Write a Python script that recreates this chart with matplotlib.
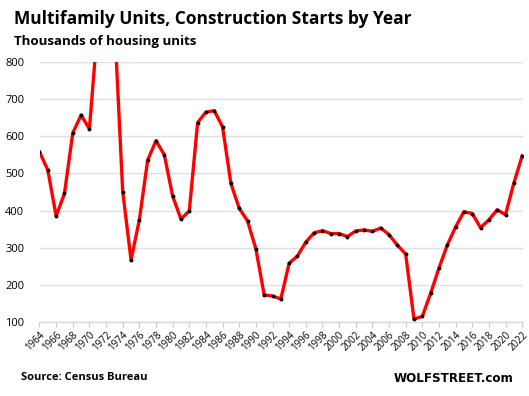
import matplotlib.pyplot as plt

# Multifamily construction starts, thousands of units (1971-73 run off the top)
years = list(range(1964, 2023))
starts = [558, 509, 385, 446, 609, 657, 620, 901, 1048, 913,
          451, 267, 375, 536, 588, 550, 439, 377, 399, 637,
          665, 669, 625, 473, 406, 372, 297, 173, 170, 162,
          258, 278, 315, 340, 346, 338, 338, 330, 345, 348,
          344, 353, 335, 307, 283, 108, 115, 177, 245, 307,
          356, 397, 392, 354, 375, 402, 389, 474, 547]
tick_years = list(range(1964, 2023, 2))
y_ticks = [100, 200, 300, 400, 500, 600, 700, 800]

plt.rcParams['font.family'] = ['Open Sans', 'DejaVu Sans']

fig = plt.figure(figsize=(5.29, 3.96), dpi=100)
ax = fig.add_axes([39.5 / 529, 74 / 396, 483.5 / 529, 260 / 396])

ax.plot(years, starts, color='#ff0000', linewidth=2.4, zorder=3)
ax.plot(years, starts, linestyle='none', marker='o', markersize=1.8,
        color='black', zorder=4)

ax.set_xlim(1964, 2022.1)
ax.set_ylim(100, 800)
ax.set_yticks(y_ticks)
ax.set_xticks(tick_years)
ax.set_xticklabels([str(y) for y in tick_years], rotation=45, ha='right',
                   rotation_mode='anchor', fontsize=7)
ax.tick_params(axis='y', length=0, pad=11, labelsize=8)
ax.tick_params(axis='x', length=3.5, color='#c8c8c8', pad=2)
ax.grid(axis='y', color='#e0e0e0', linewidth=1)
ax.set_axisbelow(True)
for side in ['top', 'right', 'left']:
    ax.spines[side].set_visible(False)
ax.spines['bottom'].set_color('#d9d9d9')
ax.spines['bottom'].set_linewidth(1)

fig.text(14 / 529, 1 - 19 / 396, 'Multifamily Units, Construction Starts by Year',
         fontsize=12.5, fontweight='bold', va='center', ha='left')
fig.text(14 / 529, 1 - 42 / 396, 'Thousands of housing units',
         fontsize=9.5, fontweight='bold', va='center', ha='left')
fig.text(21 / 529, 1 - 378 / 396, 'Source: Census Bureau',
         fontsize=8, fontweight='bold', va='center', ha='left')
fig.text(514 / 529, 1 - 378 / 396, 'WOLFSTREET.com',
         fontsize=8.6, fontweight='heavy', va='center', ha='right',
         family=['DejaVu Sans'])

fig.savefig('out.png', dpi=100)
